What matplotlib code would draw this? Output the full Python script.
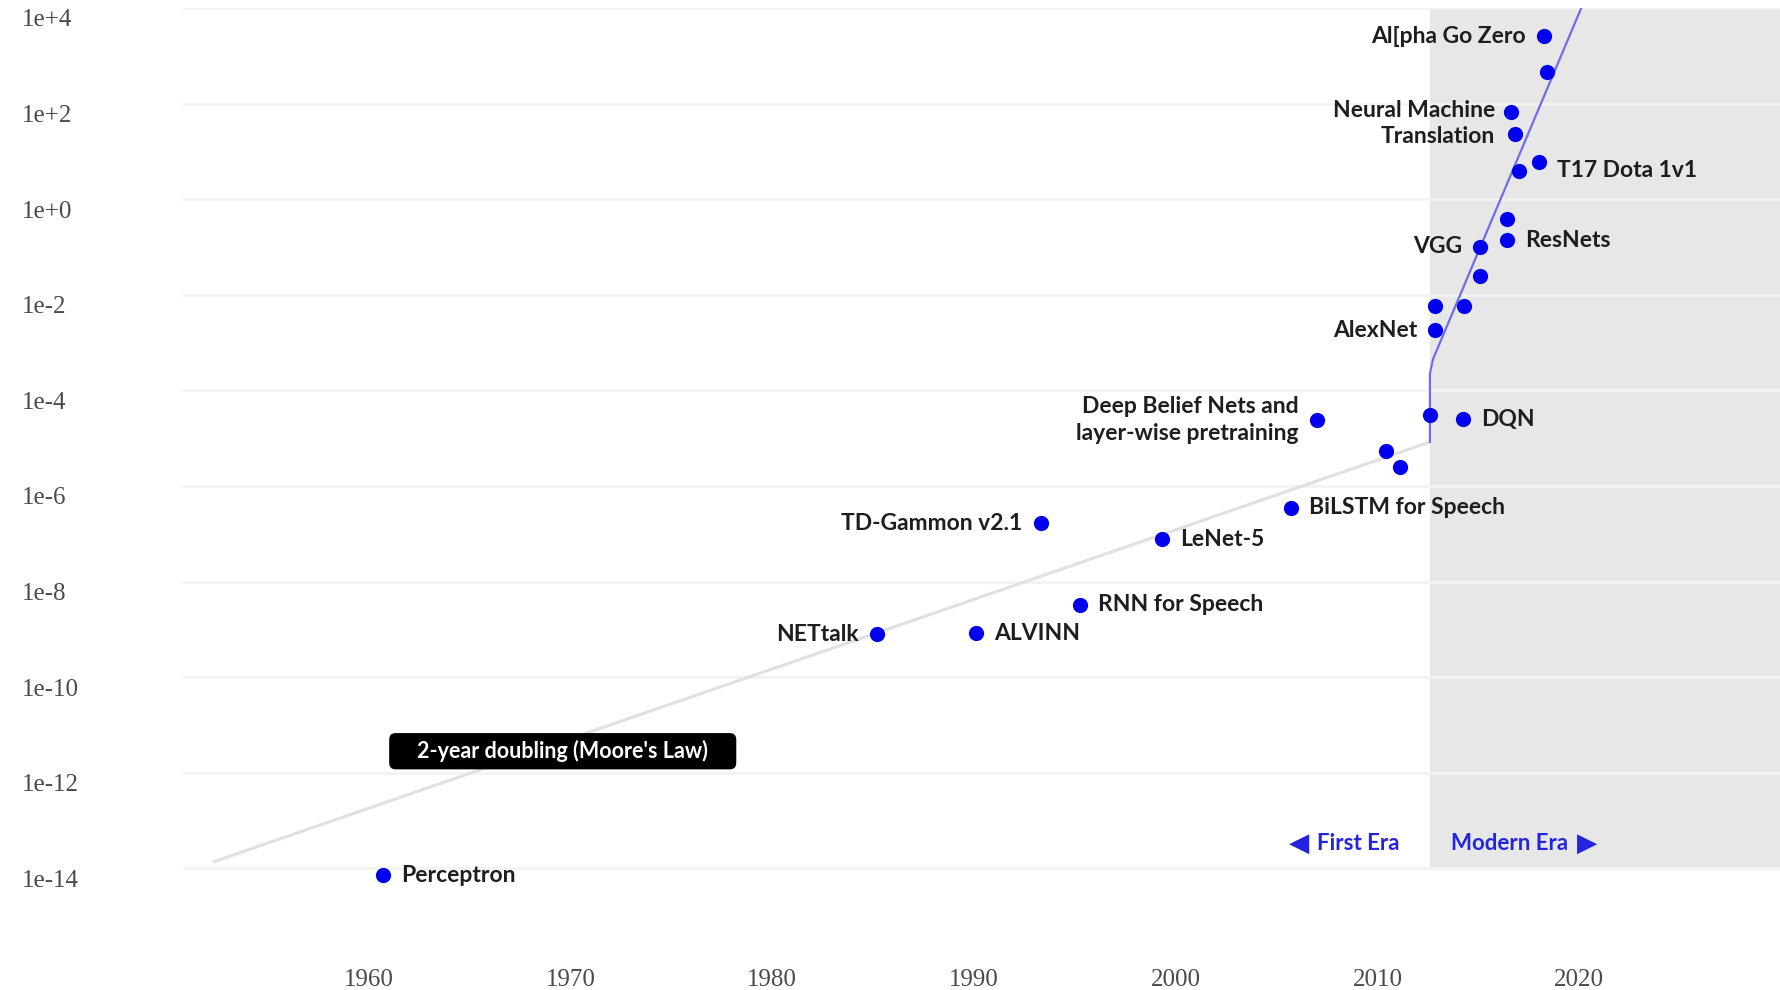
import numpy as np
import matplotlib
matplotlib.use("Agg")
import matplotlib.pyplot as plt
import matplotlib.transforms as mtransforms
from matplotlib.ticker import NullLocator

# training compute of notable models (log10 petaflop/s-days)
years = [1960.7, 1985.2, 1990.1, 1995.25, 1993.3, 1999.3, 2005.7, 2007.0,
         2010.4, 2011.1, 2012.6, 2014.25, 2012.85, 2012.85, 2014.3, 2015.1,
         2015.1, 2016.4, 2016.4, 2017.0, 2018.0, 2016.6, 2016.8, 2018.4,
         2018.25]
log_compute = [-14.15, -9.10, -9.08, -8.49, -6.78, -7.11, -6.46, -4.62,
               -5.27, -5.61, -4.52, -4.60, -2.74, -2.24, -2.24, -1.61,
               -1.00, -0.86, -0.42, 0.59, 0.78, 1.82, 1.36, 2.66,
               3.41]
labels = ["Perceptron", "NETtalk", "ALVINN", "RNN for Speech", "TD-Gammon v2.1",
          "LeNet-5", "BiLSTM for Speech",
          "Deep Belief Nets and\nlayer-wise pretraining",
          "", "", "", "DQN", "AlexNet", "", "", "",
          "VGG", "ResNets", "", "", "T17 Dota 1v1",
          "Neural Machine\nTranslation", "", "", "Al[pha Go Zero"]
sides = ["r", "l", "r", "r", "l", "r", "r", "l",
         "", "", "", "r", "l", "", "", "",
         "l", "r", "", "", "r", "l", "", "", "l"]

# trend lines
moore_years = [1952.27, 2012.6]
moore_log = [-13.87, -5.08]
modern_years = [2012.6, 2012.6, 2012.75, 2020.3]
modern_log = [-5.08, -3.65, -3.35, 4.2]
modern_start = 2012.6

xticks = [1960, 1970, 1980, 1990, 2000, 2010, 2020]
ytick_exp = list(range(-14, 5, 2))
ytick_labels = ["1e%+d" % e if e >= 0 else "1e%d" % e for e in ytick_exp]

compute = 10.0 ** np.array(log_compute)

fig = plt.figure(figsize=(17.81, 9.90), dpi=100)
ax = fig.add_axes([183/1781, 1 - 897/990, 1 - 183/1781, (897 - 8)/990])
ax.set_yscale("log")
ax.set_xlim(1950.8, 2030)
ax.set_ylim(10**-14.6, 1e4)

ax.fill_between([modern_start, 2030], 1e-14, 1e4, color="#e7e7e7", lw=0, zorder=0.2)

ax.plot(moore_years, 10.0 ** np.array(moore_log), color="#e0e0e0", lw=2.2, zorder=1,
        solid_capstyle="butt")
ax.plot(modern_years, 10.0 ** np.array(modern_log), color="#6e6ee8", lw=1.6, zorder=1.5)

ax.scatter(years, compute, s=120, color="#0000ee", zorder=3, lw=0)

for x, y, lab, side in zip(years, compute, labels, sides):
    if not lab:
        continue
    dx = 13 if side == "r" else -13
    dy = 0
    if lab.startswith("T17"):
        dy = -6
    if lab.startswith("Neural"):
        dx, dy = -11, -8
    ax.annotate(lab, (x, y), xytext=(dx, dy), textcoords="offset points",
                ha="left" if side == "r" else "right", va="center",
                multialignment="left" if side == "r" else "right",
                fontsize=16.5, fontweight="bold", family="Lato", color="#1e1e1e",
                linespacing=1.32, zorder=4)

ax.text(1969.62, 10**-11.55, "    2-year doubling (Moore's Law)    ", ha="center", va="center",
        color="white", fontsize=15.5, fontweight="bold", family="Lato", zorder=5,
        bbox=dict(boxstyle="round,pad=0.33,rounding_size=0.3", fc="black", ec="none"))

# era markers along the bottom
era_y = 10**-13.48
era_kw = dict(textcoords="offset points", va="center", color="#2424e0",
              fontweight="bold")
ax.annotate("First Era", (modern_start, era_y), xytext=(-22, 0), ha="right",
            fontsize=16, family="Lato", **era_kw)
ax.annotate("\u25c0", (modern_start, era_y), xytext=(-94, 0), ha="center",
            fontsize=19, family="DejaVu Sans", **era_kw)
ax.annotate("Modern Era", (modern_start, era_y), xytext=(15, 0), ha="left",
            fontsize=16, family="Lato", **era_kw)
ax.annotate("\u25b6", (modern_start, era_y), xytext=(113, 0), ha="center",
            fontsize=19, family="DejaVu Sans", **era_kw)

ax.set_xticks(xticks)
ax.set_xticklabels([str(t) for t in xticks])
ax.set_yticks([10.0**e for e in ytick_exp])
ax.set_yticklabels(ytick_labels)
ax.yaxis.set_minor_locator(NullLocator())
ax.tick_params(length=0, labelsize=18, labelcolor="#4a4a4a")
ax.tick_params(axis="x", pad=52)
ax.tick_params(axis="y", pad=116)
for lbl in ax.get_xticklabels() + ax.get_yticklabels():
    lbl.set_family("Liberation Serif")
offset = mtransforms.ScaledTranslation(0, -10/100, fig.dpi_scale_trans)
for lbl in ax.get_yticklabels():
    lbl.set_horizontalalignment("left")
    lbl.set_transform(lbl.get_transform() + offset)

ax.grid(axis="y", color="#f3f3f3", lw=2)
ax.grid(axis="x", visible=False)
ax.set_axisbelow(True)
for s in ax.spines.values():
    s.set_visible(False)

fig.savefig("out.png", dpi=100)
